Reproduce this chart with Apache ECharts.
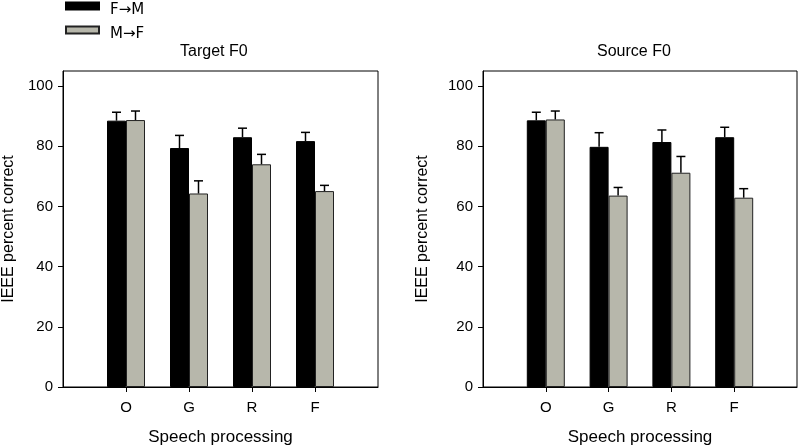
<!DOCTYPE html>
<html>
<head>
<meta charset="utf-8">
<script src="https://cdn.jsdelivr.net/npm/echarts@6/dist/echarts.min.js"></script>
<style>html,body{margin:0;padding:0;background:#fff}#c{width:800px;height:447px}</style>
</head>
<body>
<div id="c"></div>
<script>
var categories = ['O', 'G', 'R', 'F'];
var seriesNames = ['F\u2192M', 'M\u2192F'];
var yTicks = [0, 20, 40, 60, 80, 100];

// Target F0 panel
var targetFM = [88.5, 79.4, 83.0, 81.7];
var targetFMErr = [2.8, 4.2, 3.0, 2.9];
var targetMF = [88.7, 64.3, 74.0, 65.1];
var targetMFErr = [3.0, 4.2, 3.3, 1.9];

// Source F0 panel
var sourceFM = [88.6, 79.8, 81.4, 83.0];
var sourceFMErr = [2.7, 4.7, 4.0, 3.3];
var sourceMF = [88.9, 63.6, 71.2, 62.9];
var sourceMFErr = [2.8, 2.7, 5.4, 3.0];

var FONT = "'Liberation Sans', Arial, sans-serif";
var BAR_W = 19;

function pad(arr) { return [null].concat(arr).concat([null]); }
var xCats = [''].concat(categories).concat(['']);

function errData(vals, errs) {
  return vals.map(function (v, i) { return [i + 1, v, errs[i]]; });
}
function errSeries(xi, vals, errs, sign) {
  return {
    type: 'custom', xAxisIndex: xi, yAxisIndex: xi, z: 5, silent: true,
    data: errData(vals, errs),
    renderItem: function (params, api) {
      var base = api.coord([api.value(0), api.value(1)]);
      var top = api.coord([api.value(0), api.value(1) + api.value(2)]);
      var x = base[0] + sign * BAR_W / 2;
      return {
        type: 'group',
        children: [
          { type: 'line', shape: { x1: x, y1: base[1], x2: x, y2: top[1] }, style: { stroke: '#000', lineWidth: 1.5 } },
          { type: 'line', shape: { x1: x - 4.5, y1: top[1], x2: x + 4.5, y2: top[1] }, style: { stroke: '#000', lineWidth: 1.5 } }
        ]
      };
    }
  };
}

function xAxisDef(gi) {
  return {
    type: 'category', gridIndex: gi, data: xCats, boundaryGap: false,
    name: 'Speech processing', nameLocation: 'middle', nameGap: 42,
    nameTextStyle: { fontFamily: FONT, fontSize: 17, color: '#000' },
    axisLine: { lineStyle: { color: '#000', width: 1 } },
    axisTick: { length: 5, interval: function (i) { return i >= 1 && i <= 4; }, lineStyle: { color: '#000' } },
    axisLabel: { interval: 0, margin: 13, fontFamily: FONT, fontSize: 15, color: '#000' },
    splitLine: { show: false }
  };
}
function yAxisDef(gi, gap) {
  return {
    type: 'value', gridIndex: gi, min: 0, max: 105, interval: 20,
    name: 'IEEE percent correct', nameLocation: 'middle', nameGap: gap,
    nameTextStyle: { fontFamily: FONT, fontSize: 16, color: '#000' },
    axisLine: { show: true, lineStyle: { color: '#000', width: 1 } },
    axisTick: { show: true, length: 5, customValues: yTicks, lineStyle: { color: '#000' } },
    axisLabel: { customValues: yTicks, margin: 10, fontFamily: FONT, fontSize: 15, color: '#000' },
    splitLine: { show: false }
  };
}
function barSeries(name, xi, vals, color, border) {
  return {
    name: name, type: 'bar', xAxisIndex: xi, yAxisIndex: xi,
    data: pad(vals), barWidth: BAR_W, barGap: '0%',
    itemStyle: { color: color, borderColor: border, borderWidth: 1 }
  };
}

var chart = echarts.init(document.getElementById('c'), null, { renderer: 'canvas' });
chart.setOption({
  animation: false,
  backgroundColor: '#fff',
  color: ['#000', '#b7b7ab'],
  title: [
    { text: 'Target F0', left: 175, top: 39, padding: 5, textStyle: { fontFamily: FONT, fontSize: 16, fontWeight: 'normal', color: '#000' } },
    { text: 'Source F0', left: 592, top: 39, padding: 5, textStyle: { fontFamily: FONT, fontSize: 16, fontWeight: 'normal', color: '#000' } }
  ],
  legend: {
    data: seriesNames, orient: 'vertical', left: 65, top: -6, padding: 0,
    icon: 'rect', itemWidth: 33, itemHeight: 7, itemGap: 0,
    formatter: '{t|{name}}',
    textStyle: {
      color: '#000',
      rich: { t: { fontFamily: "'DejaVu Sans', sans-serif", fontSize: 15, lineHeight: 11, color: '#000', padding: [9, 0, 0, 6] } }
    }
  },
  grid: [
    { left: 63, right: 422, top: 71, bottom: 60, show: true, borderColor: '#000', borderWidth: 1, backgroundColor: 'transparent', outerBoundsMode: 'none', containLabel: false },
    { left: 483, right: 3, top: 71, bottom: 60, show: true, borderColor: '#000', borderWidth: 1, backgroundColor: 'transparent', outerBoundsMode: 'none', containLabel: false }
  ],
  xAxis: [xAxisDef(0), xAxisDef(1)],
  yAxis: [yAxisDef(0, 46), yAxisDef(1, 52)],
  series: [
    barSeries(seriesNames[0], 0, targetFM, '#000', '#000'),
    barSeries(seriesNames[1], 0, targetMF, '#b7b7ab', '#222'),
    barSeries(seriesNames[0], 1, sourceFM, '#000', '#000'),
    barSeries(seriesNames[1], 1, sourceMF, '#b7b7ab', '#222'),
    errSeries(0, targetFM, targetFMErr, -1),
    errSeries(0, targetMF, targetMFErr, 1),
    errSeries(1, sourceFM, sourceFMErr, -1),
    errSeries(1, sourceMF, sourceMFErr, 1)
  ]
});
</script>
</body>
</html>
